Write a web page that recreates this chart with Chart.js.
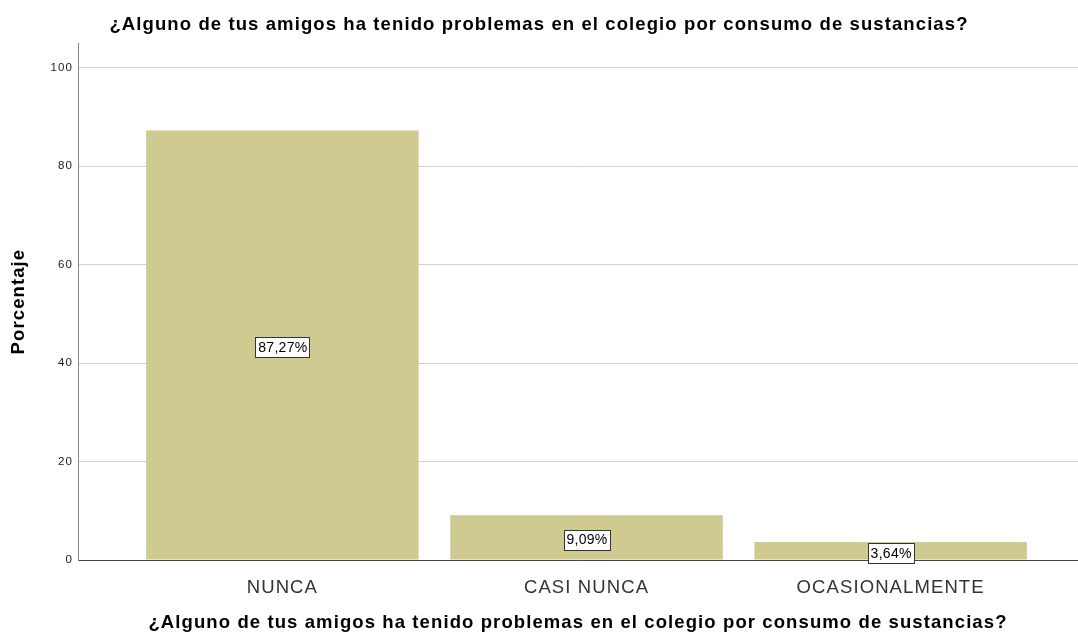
<!DOCTYPE html>
<html>
<head>
<meta charset="utf-8">
<script src="https://cdn.jsdelivr.net/npm/chart.js@4"></script>
<style>
html,body{margin:0;padding:0;background:#fff;}
#wrap{width:1078px;height:634px;position:relative;}
</style>
</head>
<body>
<div id="wrap"><canvas id="c"></canvas></div>
<script>
const categories = ["NUNCA", "CASI NUNCA", "OCASIONALMENTE"];
const percentages = [87.27, 9.09, 3.64];
const valueLabels = ["87,27%", "9,09%", "3,64%"];
const yTicks = [0, 20, 40, 60, 80, 100];
const chartTitle = "¿Alguno de tus amigos ha tenido problemas en el colegio por consumo de sustancias?";
const yTitle = "Porcentaje";

const FONT = "'Liberation Sans', Arial, sans-serif";

const spacingPlugin = {
  id: 'spacing',
  beforeDraw(chart) {
    try { chart.ctx.letterSpacing = '1.1px'; } catch (e) {}
  }
};

const labelPlugin = {
  id: 'boxLabels',
  afterDatasetsDraw(chart) {
    const ctx = chart.ctx;
    const xs = chart.scales.x, ys = chart.scales.y;
    ctx.save();
    try { ctx.letterSpacing = '0.3px'; } catch (e) {}
    ctx.font = "14px " + FONT;
    ctx.textAlign = 'center';
    ctx.textBaseline = 'middle';
    percentages.forEach((v, i) => {
      const cx = xs.getPixelForValue(i);
      const cy = ys.getPixelForValue(v / 2) + 2;
      const w = Math.round(ctx.measureText(valueLabels[i]).width + 5);
      const h = 20;
      const x0 = Math.round(cx - w / 2) + 0.5, y0 = Math.round(cy - h / 2) + 0.5;
      ctx.fillStyle = '#ffffff';
      ctx.fillRect(x0, y0, w, h);
      ctx.strokeStyle = '#333333';
      ctx.lineWidth = 1;
      ctx.strokeRect(x0, y0, w, h);
      ctx.fillStyle = '#000000';
      ctx.fillText(valueLabels[i], cx + 0.5, cy + 1);
    });
    ctx.restore();
  }
};

new Chart(document.getElementById('c'), {
  type: 'bar',
  data: {
    datasets: [{
      data: percentages.map((v, i) => ({x: i, y: v})),
      backgroundColor: '#cfca8f',
      borderWidth: 0,
      barPercentage: 0.896,
      categoryPercentage: 1.0
    }]
  },
  options: {
    responsive: true,
    maintainAspectRatio: false,
    animation: false,
    layout: {padding: {left: 0, right: 0, top: 0, bottom: 0}},
    plugins: {
      legend: {display: false},
      tooltip: {enabled: false},
      title: {
        display: true,
        text: chartTitle,
        color: '#000',
        font: {family: FONT, size: 18.5, weight: 'bold'},
        padding: {top: 14, bottom: 7}
      }
    },
    scales: {
      x: {
        type: 'linear',
        offset: false,
        min: -0.672,
        max: 2.616,
        afterBuildTicks: (s) => { s.ticks = categories.map((c, i) => ({value: i})); },
        afterFit: (s) => { s.height = 74; },
        grid: {display: false},
        border: {display: true, color: '#444444', width: 1},
        ticks: {
          padding: 9,
          color: '#333',
          font: {family: FONT, size: 18.5},
          maxRotation: 0,
          autoSkip: false,
          callback: (v) => categories[v] ?? ''
        },
        title: {
          display: true,
          text: chartTitle,
          color: '#000',
          font: {family: FONT, size: 18.5, weight: 'bold'},
          padding: {top: 0, bottom: 0}
        }
      },
      y: {
        min: 0,
        max: 105,
        afterBuildTicks: (s) => { s.ticks = yTicks.map(v => ({value: v})); },
        afterFit: (s) => { s.width = 78; },
        grid: {color: '#d0d0d0', lineWidth: 1, drawTicks: false},
        border: {display: true, color: '#888888', width: 1},
        ticks: {
          padding: 5,
          color: '#222',
          font: {family: FONT, size: 11.5}
        },
        title: {
          display: true,
          text: yTitle,
          color: '#000',
          font: {family: FONT, size: 18.5, weight: 'bold'},
          padding: {top: 8, bottom: 0}
        }
      }
    }
  },
  plugins: [spacingPlugin, labelPlugin]
});
</script>
</body>
</html>
